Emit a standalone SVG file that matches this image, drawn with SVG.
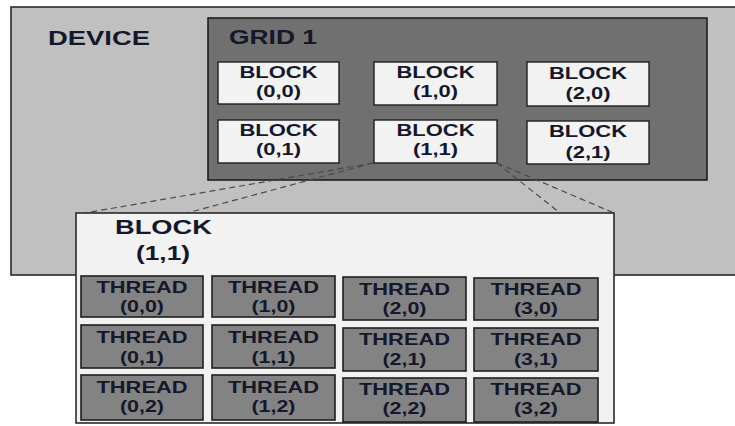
<svg xmlns="http://www.w3.org/2000/svg" width="735" height="426" viewBox="0 0 735 426">
  <style>
    text { font-family: "Liberation Sans", Arial, sans-serif; font-weight: bold; fill: #15172b; text-anchor: middle; }
    .device { fill: #c0c0c0; stroke: #2a2a2a; stroke-width: 1.6; }
    .grid { fill: #707070; stroke: #1e1e1e; stroke-width: 1.6; }
    .block { fill: #f2f2f2; stroke: #1e1e1e; stroke-width: 1.4; }
    .big { fill: #f2f2f2; stroke: #2a2a2a; stroke-width: 1.6; }
    .thread { fill: #838383; stroke: #1e1e1e; stroke-width: 1.6; }
    .lbl { font-size: 20px; }
    .bl { font-size: 16px; }
    .th { font-size: 16.5px; }
    .dash { fill: none; stroke: #4a4a4a; stroke-width: 1.2; stroke-dasharray: 6 4; }
  </style>

  <rect width="735" height="426" fill="#ffffff"/>

  <!-- device -->
  <g id="device">
    <rect class="device" x="11" y="7" width="740" height="268"/>
    <text class="lbl" x="99" y="45" textLength="102" lengthAdjust="spacingAndGlyphs">DEVICE</text>
  </g>

  <!-- grid -->
  <g id="grid1">
    <rect class="grid" x="208" y="18" width="499" height="162"/>
    <text class="lbl" x="273" y="44" textLength="88" lengthAdjust="spacingAndGlyphs">GRID 1</text>
  </g>

  <!-- blocks of the grid -->
  <g id="block-0-0">
    <rect class="block" x="218" y="62" width="121" height="42"/>
    <text class="bl" x="278.5" y="78" textLength="78" lengthAdjust="spacingAndGlyphs">BLOCK</text>
    <text class="bl" x="278.5" y="97" textLength="45" lengthAdjust="spacingAndGlyphs">(0,0)</text>
  </g>
  <g id="block-1-0">
    <rect class="block" x="374" y="62" width="123" height="43"/>
    <text class="bl" x="435.5" y="78" textLength="78" lengthAdjust="spacingAndGlyphs">BLOCK</text>
    <text class="bl" x="435.5" y="97" textLength="45" lengthAdjust="spacingAndGlyphs">(1,0)</text>
  </g>
  <g id="block-2-0">
    <rect class="block" x="527" y="62" width="122" height="44"/>
    <text class="bl" x="588" y="79" textLength="78" lengthAdjust="spacingAndGlyphs">BLOCK</text>
    <text class="bl" x="588" y="99" textLength="45" lengthAdjust="spacingAndGlyphs">(2,0)</text>
  </g>
  <g id="block-0-1">
    <rect class="block" x="218" y="120" width="121" height="43"/>
    <text class="bl" x="278.5" y="136" textLength="78" lengthAdjust="spacingAndGlyphs">BLOCK</text>
    <text class="bl" x="278.5" y="155" textLength="45" lengthAdjust="spacingAndGlyphs">(0,1)</text>
  </g>
  <g id="block-1-1">
    <rect class="block" x="374" y="120" width="123" height="43"/>
    <text class="bl" x="435.5" y="136" textLength="78" lengthAdjust="spacingAndGlyphs">BLOCK</text>
    <text class="bl" x="435.5" y="155" textLength="45" lengthAdjust="spacingAndGlyphs">(1,1)</text>
  </g>
  <g id="block-2-1">
    <rect class="block" x="527" y="121" width="122" height="43"/>
    <text class="bl" x="588" y="137" textLength="78" lengthAdjust="spacingAndGlyphs">BLOCK</text>
    <text class="bl" x="588" y="158" textLength="45" lengthAdjust="spacingAndGlyphs">(2,1)</text>
  </g>

  <!-- projection lines from block (1,1) to its enlarged view -->
  <g id="connectors">
    <line class="dash" x1="373" y1="163" x2="85" y2="213"/>
    <line class="dash" x1="373" y1="163" x2="187" y2="213"/>
    <line class="dash" x1="497" y1="163" x2="560" y2="213"/>
    <line class="dash" x1="497" y1="163" x2="614" y2="213"/>
  </g>

  <!-- enlarged block (1,1) -->
  <g id="block-detail">
    <rect class="big" x="76" y="213" width="538" height="210"/>
    <text class="lbl" x="163.5" y="234" textLength="97" lengthAdjust="spacingAndGlyphs">BLOCK</text>
    <text class="lbl" x="163" y="260" textLength="54" lengthAdjust="spacingAndGlyphs">(1,1)</text>
  </g>

  <!-- threads -->
  <g id="thread-0-0">
    <rect class="thread" x="81" y="276" width="122" height="41"/>
    <text class="th" x="142" y="293" textLength="91" lengthAdjust="spacingAndGlyphs">THREAD</text>
    <text class="th" x="142" y="312" textLength="44" lengthAdjust="spacingAndGlyphs">(0,0)</text>
  </g>
  <g id="thread-1-0">
    <rect class="thread" x="212" y="276" width="123" height="41"/>
    <text class="th" x="273.5" y="293" textLength="91" lengthAdjust="spacingAndGlyphs">THREAD</text>
    <text class="th" x="273.5" y="312" textLength="44" lengthAdjust="spacingAndGlyphs">(1,0)</text>
  </g>
  <g id="thread-2-0">
    <rect class="thread" x="343" y="277" width="123" height="43"/>
    <text class="th" x="404.5" y="295" textLength="91" lengthAdjust="spacingAndGlyphs">THREAD</text>
    <text class="th" x="404.5" y="314" textLength="44" lengthAdjust="spacingAndGlyphs">(2,0)</text>
  </g>
  <g id="thread-3-0">
    <rect class="thread" x="474" y="278" width="124" height="42"/>
    <text class="th" x="536" y="295" textLength="91" lengthAdjust="spacingAndGlyphs">THREAD</text>
    <text class="th" x="536" y="314" textLength="44" lengthAdjust="spacingAndGlyphs">(3,0)</text>
  </g>

  <g id="thread-0-1">
    <rect class="thread" x="81" y="325" width="122" height="43"/>
    <text class="th" x="142" y="343" textLength="91" lengthAdjust="spacingAndGlyphs">THREAD</text>
    <text class="th" x="142" y="363" textLength="44" lengthAdjust="spacingAndGlyphs">(0,1)</text>
  </g>
  <g id="thread-1-1">
    <rect class="thread" x="212" y="325" width="123" height="43"/>
    <text class="th" x="273.5" y="343" textLength="91" lengthAdjust="spacingAndGlyphs">THREAD</text>
    <text class="th" x="273.5" y="363" textLength="44" lengthAdjust="spacingAndGlyphs">(1,1)</text>
  </g>
  <g id="thread-2-1">
    <rect class="thread" x="343" y="328" width="123" height="43"/>
    <text class="th" x="404.5" y="345" textLength="91" lengthAdjust="spacingAndGlyphs">THREAD</text>
    <text class="th" x="404.5" y="365" textLength="44" lengthAdjust="spacingAndGlyphs">(2,1)</text>
  </g>
  <g id="thread-3-1">
    <rect class="thread" x="474" y="328" width="124" height="43"/>
    <text class="th" x="536" y="345" textLength="91" lengthAdjust="spacingAndGlyphs">THREAD</text>
    <text class="th" x="536" y="365" textLength="44" lengthAdjust="spacingAndGlyphs">(3,1)</text>
  </g>

  <g id="thread-0-2">
    <rect class="thread" x="81" y="375" width="122" height="45"/>
    <text class="th" x="142" y="393" textLength="91" lengthAdjust="spacingAndGlyphs">THREAD</text>
    <text class="th" x="142" y="412" textLength="44" lengthAdjust="spacingAndGlyphs">(0,2)</text>
  </g>
  <g id="thread-1-2">
    <rect class="thread" x="212" y="375" width="123" height="45"/>
    <text class="th" x="273.5" y="393" textLength="91" lengthAdjust="spacingAndGlyphs">THREAD</text>
    <text class="th" x="273.5" y="412" textLength="44" lengthAdjust="spacingAndGlyphs">(1,2)</text>
  </g>
  <g id="thread-2-2">
    <rect class="thread" x="343" y="378" width="123" height="44"/>
    <text class="th" x="404.5" y="395" textLength="91" lengthAdjust="spacingAndGlyphs">THREAD</text>
    <text class="th" x="404.5" y="414" textLength="44" lengthAdjust="spacingAndGlyphs">(2,2)</text>
  </g>
  <g id="thread-3-2">
    <rect class="thread" x="474" y="378" width="124" height="44"/>
    <text class="th" x="536" y="395" textLength="91" lengthAdjust="spacingAndGlyphs">THREAD</text>
    <text class="th" x="536" y="414" textLength="44" lengthAdjust="spacingAndGlyphs">(3,2)</text>
  </g>
</svg>
